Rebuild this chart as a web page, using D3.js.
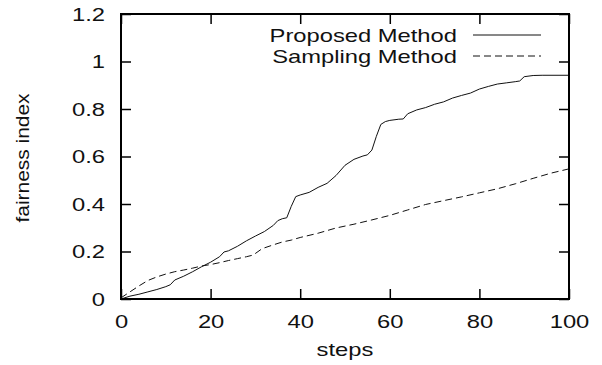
<!DOCTYPE html>
<html>
<head>
<meta charset="utf-8">
<script src="https://d3js.org/d3.v7.min.js"></script>
<style>
  body { margin: 0; background: #fff; }
  text { font-family: "Liberation Sans", Arial, sans-serif; font-size: 19px; fill: #111; }
</style>
</head>
<body>
<script>
//series data
var proposedSteps = [0, 2, 4, 6, 8, 10, 11, 12, 14, 16, 18, 20, 22, 23, 24, 26, 28, 30, 32, 34, 35, 36, 37, 38, 39, 40, 42, 44, 46, 48, 50, 52, 54, 55, 56, 57, 58, 59, 60, 62, 63, 64, 66, 68, 70, 72, 74, 76, 78, 80, 82, 84, 86, 88, 89, 90, 92, 94, 100];
var proposedValues = [0, 0.012, 0.02, 0.03, 0.04, 0.052, 0.06, 0.08, 0.096, 0.115, 0.136, 0.155, 0.178, 0.198, 0.203, 0.222, 0.245, 0.265, 0.284, 0.31, 0.33, 0.338, 0.342, 0.39, 0.431, 0.438, 0.449, 0.47, 0.487, 0.52, 0.563, 0.588, 0.602, 0.607, 0.627, 0.685, 0.735, 0.747, 0.752, 0.757, 0.758, 0.78, 0.796, 0.806, 0.82, 0.83, 0.846, 0.857, 0.867, 0.884, 0.895, 0.905, 0.91, 0.915, 0.918, 0.936, 0.941, 0.942, 0.942];

var samplingSteps = [0, 2, 4, 6, 8, 10, 12, 14, 16, 18, 20, 22, 24, 26, 28, 29.5, 31.5, 34, 36, 38, 40, 44, 48, 52, 56, 60, 64, 68, 72, 76, 80, 84, 88, 92, 96, 100];
var samplingValues = [0.005, 0.03, 0.055, 0.078, 0.093, 0.105, 0.115, 0.122, 0.13, 0.139, 0.145, 0.153, 0.162, 0.17, 0.178, 0.185, 0.212, 0.228, 0.24, 0.248, 0.259, 0.277, 0.299, 0.315, 0.333, 0.352, 0.375, 0.398, 0.414, 0.43, 0.447, 0.464, 0.485, 0.508, 0.53, 0.548];

var seriesNames = ["Proposed Method", "Sampling Method"];
var xTicks = [0, 20, 40, 60, 80, 100];
var yTicks = [0, 0.2, 0.4, 0.6, 0.8, 1, 1.2];
var yTickLabels = ["0", "0.2", "0.4", "0.6", "0.8", "1", "1.2"];

window.onload = function(){

    var w = 602, h = 365;
    var left = 121, right = 569, top = 14, bottom = 299;
    var sx = 1.25; //text in the picture is stretched sideways

    var svg = d3.select("body").append("svg")
        .attr("width", w)
        .attr("height", h);

    var x = d3.scaleLinear().domain([0, 100]).range([left, right]);
    var y = d3.scaleLinear().domain([0, 1.2]).range([bottom, top]);

    //stretch a text element horizontally around its anchor
    function stretch(sel){
        sel.each(function(){
            var t = d3.select(this);
            var tx = +t.attr("x") || 0;
            t.attr("x", tx / sx).attr("transform", "scale(" + sx + ",1)");
        });
    }

    //bottom axis
    var xAxis = svg.append("g")
        .attr("transform", "translate(0," + bottom + ")")
        .call(d3.axisBottom(x).tickValues(xTicks).tickSize(-10).tickPadding(16).tickFormat(d3.format("d")));

    //left axis
    var yAxis = svg.append("g")
        .attr("transform", "translate(" + left + ",0)")
        .call(d3.axisLeft(y).tickValues(yTicks).tickSize(-10).tickPadding(16)
            .tickFormat(function(d, i){ return yTickLabels[i]; }));

    //mirror ticks on top and right
    var topAxis = svg.append("g")
        .attr("transform", "translate(0," + top + ")")
        .call(d3.axisTop(x).tickValues(xTicks).tickSize(-10).tickFormat(""));
    var rightAxis = svg.append("g")
        .attr("transform", "translate(" + right + ",0)")
        .call(d3.axisRight(y).tickValues(yTicks).tickSize(-10).tickFormat(""));

    svg.selectAll(".domain").remove();
    svg.selectAll(".tick line").attr("stroke", "#000").attr("stroke-width", 1.5);
    svg.selectAll(".tick text")
        .attr("fill", "#111")
        .style("font-size", "19px")
        .style("font-family", "'Liberation Sans', Arial, sans-serif")
        .call(stretch);

    //lines
    var line = d3.line()
        .x(function(d){ return x(d[0]); })
        .y(function(d){ return y(d[1]); });

    var proposed = d3.zip(proposedSteps, proposedValues);
    var sampling = d3.zip(samplingSteps, samplingValues);

    svg.append("path")
        .datum(sampling)
        .attr("d", line)
        .attr("fill", "none")
        .attr("stroke", "#111")
        .attr("stroke-width", 1)
        .attr("stroke-dasharray", "7,4");

    svg.append("path")
        .datum(proposed)
        .attr("d", line)
        .attr("fill", "none")
        .attr("stroke", "#111")
        .attr("stroke-width", 1);

    //frame
    svg.append("rect")
        .attr("x", left)
        .attr("y", top)
        .attr("width", right - left)
        .attr("height", bottom - top)
        .attr("fill", "none")
        .attr("stroke", "#000")
        .attr("stroke-width", 2);

    //legend
    var legend = svg.selectAll(".legend")
        .data(seriesNames)
        .enter()
        .append("g")
        .attr("class", "legend")
        .attr("transform", function(d, i){
            return "translate(0," + (35 + i * 21) + ")";
        });

    legend.append("text")
        .attr("x", 457)
        .attr("dy", "0.35em")
        .attr("text-anchor", "end")
        .text(function(d){ return d; })
        .call(stretch);

    legend.append("line")
        .attr("x1", 473)
        .attr("x2", 541)
        .attr("stroke", "#111")
        .attr("stroke-width", 1)
        .attr("stroke-dasharray", function(d, i){ return i ? "7,4" : null; });

    //axis titles
    svg.append("text")
        .attr("x", 345)
        .attr("y", 356)
        .attr("text-anchor", "middle")
        .text("steps")
        .call(stretch);

    svg.append("text")
        .attr("transform", "translate(29,158) rotate(-90) scale(1.1,1)")
        .attr("text-anchor", "middle")
        .text("fairness index");
};
</script>
</body>
</html>
